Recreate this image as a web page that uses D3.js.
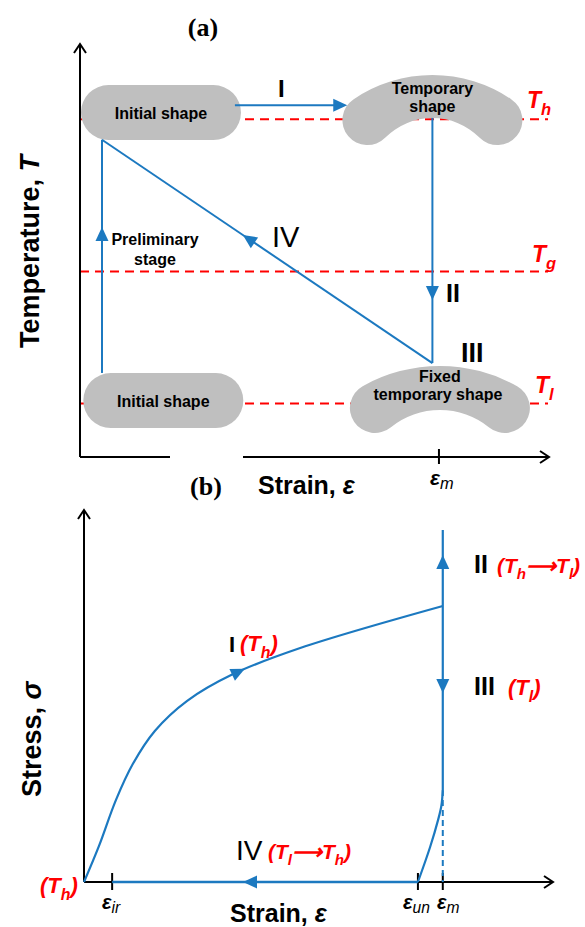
<!DOCTYPE html>
<html><head><meta charset="utf-8">
<script src="https://cdn.jsdelivr.net/npm/d3@7"></script>
<style>body{margin:0;background:#fff}svg{display:block}</style>
</head><body>
<svg id="c" width="585" height="927"></svg>
<script>
// ================= DATA =================
// Panel (a): schematic temperature–strain path (arbitrary units 0–100)
const levelNamesA  = ["h", "g", "l"];
const levelValuesA = [82, 45, 13];            // T_h, T_g, T_l
const strainTickNamesA  = ["m"];
const strainTickValuesA = [76.7];             // ε_m
const prelimPath = [[4.7, 20.4], [4.7, 77]];
const stepIPath  = [[33.1, 85.4], [55.5, 85.4]];
const stepIIPath = [[75.3, 82.3], [75.3, 22.8]];
const stepIVPath = [[75.3, 22.8], [4.7, 77]];
const shapeKinds   = ["pill", "bean", "bean", "pill"];
const shapeLabels  = [["Initial shape"], ["Temporary", "shape"], ["Fixed", "temporary shape"], ["Initial shape"]];
const shapeAnchors = [[17.3, 83.6], [75.3, 92.7], [76.9, 22.1], [17.8, 13.7]];
const arrowTipsA   = [[57.1, 85.4], [4.7, 55.8], [75.3, 38.1], [34.8, 53.9]];
const arrowFromA   = [[33.1, 85.4], [4.7, 20.4], [75.3, 82.3], [75.3, 22.8]];

// Panel (b): schematic stress–strain cycle (arbitrary units 0–100)
const strainTickNamesB  = ["ir", "un", "m"];
const strainTickValuesB = [6.0, 71.2, 76.5];
const curveI   = [[0, 0], [3.2, 9.7], [6.8, 22.0], [10.4, 31.7], [15.1, 40.6], [22.0, 48.7], [31.8, 55.9], [46.1, 62.9], [76.5, 74.2]];
const verticalII_III = [[76.5, 94.6], [76.5, 24.7]];
const unloadCurve = [[76.5, 24.7], [76.2, 20.5], [75.5, 16.7], [73.8, 9.4], [71.2, 0]];
const recoveryIV = [[71.2, 0], [6.0, 0]];
const dashedRef  = [[76.5, 24.7], [76.5, 0]];
const arrowTipsB = [[34.3, 57.3], [76.5, 87.9], [76.5, 50.8], [33.9, 0]];
const arrowFromB = [[27.0, 53.0], [76.5, 74.2], [76.5, 74.2], [71.2, 0]];

// ================= DRAW =================
const BLUE = "#1c79c0", RED = "#ff0000", GRAY = "#bfbfbf";
const SANS = "'Liberation Sans', Arial, sans-serif";
const SERIF = "'Liberation Serif', 'DejaVu Serif', serif";
const svg = d3.select("#c");

const xa = d3.scaleLinear().domain([0, 100]).range([80, 548]);
const ya = d3.scaleLinear().domain([0, 100]).range([457, 45]);
const xb = d3.scaleLinear().domain([0, 100]).range([84, 553]);
const yb = d3.scaleLinear().domain([0, 100]).range([882, 510]);

function rich(sel, x, y, parts, o) {
  const t = sel.append("text").attr("x", x).attr("y", y)
    .attr("font-family", o.family || SANS).attr("font-size", o.size)
    .attr("font-weight", o.weight || "bold").attr("font-style", o.style || "normal")
    .attr("fill", o.fill || "#000").attr("text-anchor", o.anchor || "start");
  if (o.transform) t.attr("transform", o.transform);
  let shifted = 0;
  parts.forEach(p => {
    const isSub = p.startsWith("_");
    const txt = isSub ? p.slice(1) : p;
    const ts = t.append("tspan").text(txt);
    const want = isSub ? o.size * (o.subShift || 0.3) : 0;
    if (want - shifted !== 0) ts.attr("dy", want - shifted);
    shifted = want;
    if (isSub) {
      ts.attr("font-size", o.size * (o.subScale || 0.72));
      if (o.subWeight) ts.attr("font-weight", o.subWeight);
    }
  });
  return t;
}

function arrowHead(g, sx, sy, tip, from, len = 14, hw = 6.5) {
  const tx = sx(tip[0]), ty = sy(tip[1]);
  const fx = sx(from[0]), fy = sy(from[1]);
  const a = Math.atan2(ty - fy, tx - fx);
  const bx = tx - len * Math.cos(a), by = ty - len * Math.sin(a);
  const px = -Math.sin(a) * hw, py = Math.cos(a) * hw;
  g.append("path").attr("d", `M${tx},${ty}L${bx + px},${by + py}L${bx - px},${by - py}Z`).attr("fill", BLUE);
}

function axisArrow(g, x1, y1, x2, y2) {
  g.append("line").attr("x1", x1).attr("y1", y1).attr("x2", x2).attr("y2", y2)
    .attr("stroke", "#000").attr("stroke-width", 2);
  const a = Math.atan2(y2 - y1, x2 - x1), L = 9, W = 6;
  const bx = x2 - L * Math.cos(a), by = y2 - L * Math.sin(a);
  const px = -Math.sin(a) * W, py = Math.cos(a) * W;
  g.append("path").attr("d", `M${bx + px},${by + py}L${x2},${y2}L${bx - px},${by - py}`)
    .attr("fill", "none").attr("stroke", "#000").attr("stroke-width", 2);
}

// bean (kidney) outline: outer arc, two round lobes, inner notch arc
function beanPath(cx, top, d, rl, h, n) {
  const R = (d * d + h * h - rl * rl) / (2 * (h - rl));
  const k = n - h;
  const r = (d * d + k * k - rl * rl) / (2 * (rl - k));
  const O = [cx, top + R], I = [cx, top + n + r];
  const LL = [cx - d, top + h], LR = [cx + d, top + h];
  const onC = (C, rad, P, sgn) => {
    const vx = P[0] - C[0], vy = P[1] - C[1], m = Math.hypot(vx, vy);
    return [C[0] + sgn * rad * vx / m, C[1] + sgn * rad * vy / m];
  };
  const T1L = onC(O, R, LL, 1), T1R = onC(O, R, LR, 1);
  const T2L = onC(I, r, LL, 1), T2R = onC(I, r, LR, 1);
  return `M${T2L}A${rl},${rl} 0 1 1 ${T1L}A${R},${R} 0 0 1 ${T1R}A${rl},${rl} 0 1 1 ${T2R}A${r},${r} 0 0 0 ${T2L}Z`;
}

const line = (sx, sy, curve) => d3.line().x(d => sx(d[0])).y(d => sy(d[1])).curve(curve || d3.curveLinear);

// ---------- Panel (a) ----------
const ga = svg.append("g");
ga.selectAll("line.lvl").data(levelValuesA).join("line").attr("class", "lvl")
  .attr("x1", xa(0)).attr("x2", xa(100)).attr("y1", d => ya(d)).attr("y2", d => ya(d))
  .attr("stroke", RED).attr("stroke-width", 2).attr("stroke-dasharray", "9,6");

const beanTextOffsets = { 1: [19, 37], 2: [16, 34] };
const beanGeom = { 1: [65, 25, 45, 43], 2: [65, 25, 42, 44] };
shapeKinds.forEach((k, i) => {
  const [ex, et] = shapeAnchors[i];
  const cx = xa(ex), cy = ya(et);
  if (k === "pill") {
    const w = 160, h = 55;
    ga.append("rect").attr("x", cx - w / 2).attr("y", cy - h / 2).attr("width", w).attr("height", h)
      .attr("rx", h / 2).attr("fill", GRAY);
    ga.append("text").attr("x", cx).attr("y", cy + 6).attr("text-anchor", "middle")
      .attr("font-family", SANS).attr("font-weight", "bold").attr("font-size", 16).text(shapeLabels[i][0]);
  } else {
    ga.append("path").attr("d", beanPath(cx, cy, ...beanGeom[i])).attr("fill", GRAY);
    shapeLabels[i].forEach((s, j) => {
      ga.append("text").attr("x", cx + (i === 2 && j === 1 ? -2 : 0)).attr("y", cy + beanTextOffsets[i][j]).attr("text-anchor", "middle")
        .attr("font-family", SANS).attr("font-weight", "bold").attr("font-size", 16).text(s);
    });
  }
});

axisArrow(ga, xa(0), ya(0), xa(0), 44);
axisArrow(ga, xa(0), ya(0), 549, ya(0));
ga.selectAll("line.tk").data(strainTickValuesA).join("line").attr("class", "tk")
  .attr("x1", d => xa(d)).attr("x2", d => xa(d)).attr("y1", ya(0) - 8).attr("y2", ya(0) + 7)
  .attr("stroke", "#000").attr("stroke-width", 2);

[prelimPath, stepIPath, stepIIPath, stepIVPath].forEach(p => {
  ga.append("path").attr("d", line(xa, ya)(p)).attr("fill", "none").attr("stroke", BLUE).attr("stroke-width", 2);
});
arrowTipsA.forEach((t, i) => arrowHead(ga, xa, ya, t, arrowFromA[i]));

svg.append("rect").attr("x", 170).attr("y", 453).attr("width", 73).attr("height", 50).attr("fill", "#fff");

rich(svg, 203, 36, ["(a)"], { family: SERIF, size: 26, anchor: "middle" });
rich(ga, 278, 97, ["I"], { size: 24 });
rich(ga, 446, 302, ["II"], { size: 25 });
rich(ga, 461, 362, ["III"], { size: 27 });
rich(ga, 272, 247, ["IV"], { size: 29, weight: "normal" });
ga.append("text").attr("x", 155).attr("y", 245).attr("text-anchor", "middle").attr("font-family", SANS)
  .attr("font-weight", "bold").attr("font-size", 16).text("Preliminary");
ga.append("text").attr("x", 155).attr("y", 265).attr("text-anchor", "middle").attr("font-family", SANS)
  .attr("font-weight", "bold").attr("font-size", 16).text("stage");
const lvlLabelPos = [[527, 108], [532, 262], [535, 393]];
levelNamesA.forEach((n, i) => {
  rich(ga, lvlLabelPos[i][0], lvlLabelPos[i][1], ["T", "_" + n], { size: 23, style: "italic", fill: RED });
});
strainTickNamesA.forEach((n, i) => {
  rich(ga, xa(strainTickValuesA[i]) - 9, 485, ["ε", "_" + n], { size: 21, style: "italic", subWeight: "normal", subShift: 0.2, subScale: 0.78 });
});
rich(svg, 258, 494, ["Strain, ", "ε"], { size: 25 }).select("tspan:last-child").attr("font-style", "italic");
const tl = rich(ga, 0, 0, ["Temperature, ", "T"], { size: 27, transform: "translate(39,348) rotate(-90)" });
tl.select("tspan:last-child").attr("font-style", "italic");

// ---------- Panel (b) ----------
const gb = svg.append("g");
axisArrow(gb, xb(0), yb(0), xb(0), 510);
axisArrow(gb, xb(0), yb(0), 553, yb(0));
gb.selectAll("line.tk").data(strainTickValuesB).join("line").attr("class", "tk")
  .attr("x1", d => xb(d)).attr("x2", d => xb(d)).attr("y1", yb(0) - 9).attr("y2", yb(0) + 8)
  .attr("stroke", "#000").attr("stroke-width", 2);

gb.append("path").attr("d", line(xb, yb, d3.curveCatmullRom.alpha(0.5))(curveI)).attr("fill", "none").attr("stroke", BLUE).attr("stroke-width", 2.2);
gb.append("path").attr("d", line(xb, yb)(verticalII_III)).attr("fill", "none").attr("stroke", BLUE).attr("stroke-width", 2.2);
gb.append("path").attr("d", line(xb, yb, d3.curveCatmullRom)(unloadCurve)).attr("fill", "none").attr("stroke", BLUE).attr("stroke-width", 2.2);
gb.append("path").attr("d", line(xb, yb)(recoveryIV)).attr("fill", "none").attr("stroke", BLUE).attr("stroke-width", 2.6);
gb.append("path").attr("d", line(xb, yb)(dashedRef)).attr("fill", "none").attr("stroke", BLUE).attr("stroke-width", 2).attr("stroke-dasharray", "6,4");
arrowTipsB.forEach((t, i) => arrowHead(gb, xb, yb, t, arrowFromB[i]));

rich(svg, 206, 495, ["(b)"], { family: SERIF, size: 26, anchor: "middle" });
rich(gb, 229, 652, ["I"], { size: 22 });
rich(gb, 240, 651, ["(", "T", "_h", ")"], { size: 22, style: "italic", fill: RED });
rich(gb, 474, 573, ["II"], { size: 25 });
rich(gb, 497, 573, ["(", "T", "_h", "⟶", "T", "_l", ")"], { size: 21, style: "italic", fill: RED });
rich(gb, 474, 695, ["III"], { size: 25 });
rich(gb, 508, 695, ["(", "T", "_l", ")"], { size: 22, style: "italic", fill: RED });
rich(gb, 236, 860, ["IV"], { size: 28, weight: "normal" });
rich(gb, 268, 859, ["(", "T", "_l", "⟶", "T", "_h", ")"], { size: 21, style: "italic", fill: RED });
rich(gb, 40, 893, ["(", "T", "_h", ")"], { size: 22, style: "italic", fill: RED });
const epsLblX = { ir: 102, un: 403, m: 437 };
strainTickNamesB.forEach((n, i) => {
  rich(gb, epsLblX[n], 909, ["ε", "_" + n], { size: 20, style: "italic", subWeight: "normal", subShift: 0.22, subScale: 0.78 });
});
rich(gb, 230, 922, ["Strain, ", "ε"], { size: 25 }).select("tspan:last-child").attr("font-style", "italic");
const sl = rich(gb, 0, 0, ["Stress, ", "σ"], { size: 27, transform: "translate(41,797) rotate(-90)" });
sl.select("tspan:last-child").attr("font-style", "italic");
</script>
</body></html>
